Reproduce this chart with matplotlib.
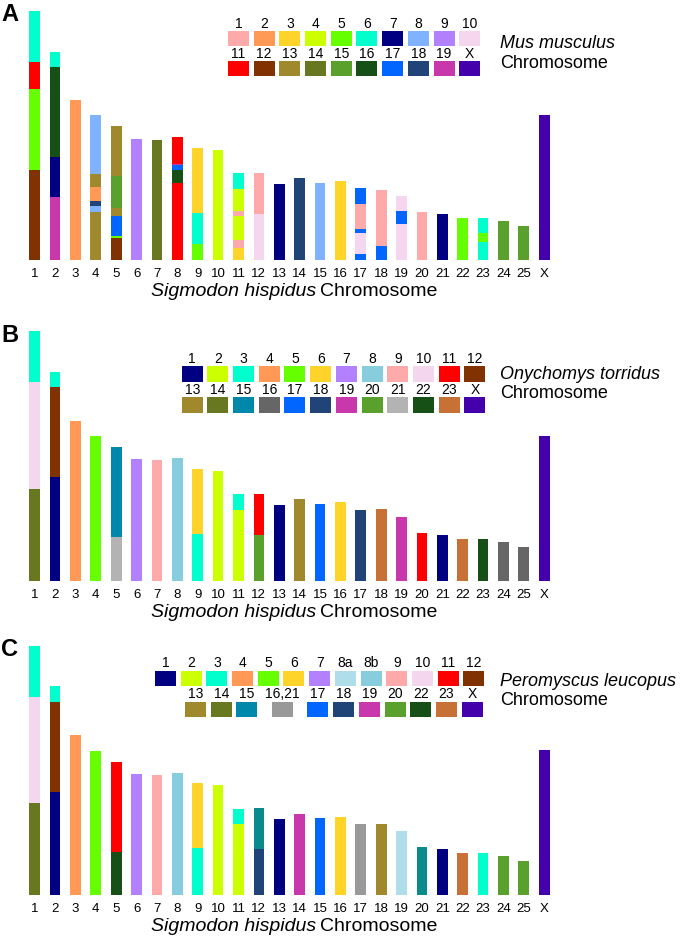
import matplotlib.pyplot as plt
from matplotlib.patches import Rectangle

plt.rcParams['font.family'] = ['Liberation Sans', 'DejaVu Sans']

# S. hispidus chromosomes on the x axis
chroms = [str(i) for i in range(1, 26)] + ['X']

# colour keys of the three reference genomes
mus_keys = ['1', '2', '3', '4', '5', '6', '7', '8', '9', '10',
            '11', '12', '13', '14', '15', '16', '17', '18', '19', 'X']
mus_cols = ['#ffaaaa', '#ff9955', '#ffd42a', '#ccff00', '#66ff00', '#00ffcc', '#000080', '#80b3ff', '#b380ff', '#f4d7ee',
            '#ff0000', '#803300', '#a0892c', '#677821', '#5aa02c', '#165016', '#0066ff', '#214478', '#c837ab', '#4400aa']

ony_keys = ['1', '2', '3', '4', '5', '6', '7', '8', '9', '10', '11', '12',
            '13', '14', '15', '16', '17', '18', '19', '20', '21', '22', '23', 'X']
ony_cols = ['#000080', '#ccff00', '#00ffcc', '#ff9955', '#66ff00', '#ffd42a', '#b380ff', '#87cdde', '#ffaaaa', '#f4d7ee', '#ff0000', '#803300',
            '#a0892c', '#677821', '#0088aa', '#666666', '#0066ff', '#214478', '#c837ab', '#5aa02c', '#b3b3b3', '#165016', '#c87137', '#4400aa']

per_keys = ['1', '2', '3', '4', '5', '6', '7', '8a', '8b', '9', '10', '11', '12',
            '13', '14', '15', '16,21', '17', '18', '19', '20', '22', '23', 'X']
per_cols = ['#000080', '#ccff00', '#00ffcc', '#ff9955', '#66ff00', '#ffd42a', '#b380ff', '#afdde9', '#87cdde', '#ffaaaa', '#f4d7ee', '#ff0000', '#803300',
            '#a0892c', '#677821', '#0088aa', '#999999', '#0066ff', '#214478', '#c837ab', '#5aa02c', '#165016', '#c87137', '#4400aa']

# segments bottom -> top: (reference chromosome, length)
mus_segs = [
    [('12', 90), ('5', 81), ('11', 27.3), ('6', 50.4)],
    [('19', 63.3), ('7', 39.7), ('16', 89.7), ('6', 15)],
    [('2', 160)],
    [('13', 48.3), ('8', 5.7), ('18', 5), ('2', 14.3), ('13', 13), ('8', 58.4)],
    [('12', 21.7), ('5', 2), ('17', 20.3), ('13', 8.3), ('15', 31.7), ('13', 49.7)],
    [('9', 121.3)],
    [('14', 120.3)],
    [('11', 76.7), ('16', 13.3), ('17', 5), ('19', 1), ('11', 26.7)],
    [('5', 15.7), ('6', 31.6), ('3', 64.7)],
    [('4', 110)],
    [('3', 11.7), ('1', 8.6), ('4', 23.4), ('1', 5.3), ('4', 22.3), ('6', 15.7)],
    [('10', 46), ('1', 41)],
    [('7', 75.7)],
    [('18', 81.7)],
    [('8', 76.7)],
    [('3', 78.7)],
    [('17', 6), ('10', 20.7), ('17', 4), ('1', 25.3), ('17', 15.7)],
    [('17', 13.7), ('1', 56.6)],
    [('10', 35.7), ('17', 13.3), ('10', 15.3)],
    [('1', 48)],
    [('7', 46)],
    [('5', 42)],
    [('6', 18), ('5', 9), ('6', 15)],
    [('15', 39)],
    [('15', 34)],
    [('X', 144.7)],
]

ony_segs = [
    [('14', 91.7), ('10', 106.7), ('3', 51)],
    [('1', 103.7), ('12', 89.7), ('3', 15.6)],
    [('4', 160)],
    [('5', 144.7)],
    [('21', 43.7), ('15', 90)],
    [('7', 121.4)],
    [('9', 120.4)],
    [('8', 122.4)],
    [('3', 47), ('6', 65)],
    [('2', 109.7)],
    [('2', 70.7), ('3', 16)],
    [('20', 45.7), ('11', 41)],
    [('1', 75.4)],
    [('13', 81.7)],
    [('17', 76.4)],
    [('6', 78.4)],
    [('18', 70.7)],
    [('23', 71.4)],
    [('19', 64)],
    [('11', 48)],
    [('1', 46)],
    [('23', 41.7)],
    [('22', 41.7)],
    [('16', 38.7)],
    [('16', 33.7)],
    [('X', 144.4)],
]

per_segs = [
    [('14', 92), ('10', 105.7), ('3', 51.6)],
    [('1', 103.3), ('12', 90), ('3', 15.4)],
    [('4', 159.7)],
    [('5', 144.3)],
    [('22', 43.3), ('11', 90)],
    [('7', 121)],
    [('9', 120)],
    [('8b', 122)],
    [('3', 46.7), ('6', 65.3)],
    [('2', 110)],
    [('2', 70.7), ('3', 15.6)],
    [('18', 46), ('t', 40.7)],
    [('1', 75.7)],
    [('19', 81.3)],
    [('17', 76.7)],
    [('6', 78.3)],
    [('16,21', 70.7)],
    [('13', 71)],
    [('8a', 64)],
    [('t', 48)],
    [('1', 46)],
    [('23', 41.7)],
    [('3', 41.7)],
    [('20', 39)],
    [('20', 33.7)],
    [('X', 144.7)],
]

W, H = 685, 937
fig = plt.figure(figsize=(W / 100, H / 100), dpi=100)

# overlay in pixel coordinates for labels / legends
ov = fig.add_axes([0, 0, 1, 1])
ov.set_xlim(0, W)
ov.set_ylim(H, 0)
ov.axis('off')

step = 20.38
x0 = 34.7


def panel(base, letter, segs, keys, cols, species, rows, leg_y, leg_x, sp_y):
    pal = dict(zip(keys, cols))
    pal['t'] = '#0a8a8a'
    ax = fig.add_axes([0, (H - base) / H, 1, 255 / H])
    xmin = 1 - x0 / step
    ax.set_xlim(xmin, xmin + W / step)
    ax.set_ylim(0, 255)
    pos = list(range(1, len(chroms) + 1))
    for p, chrom in zip(pos, segs):
        bot = 0
        for k, ln in chrom:
            ax.bar(p, ln, bottom=bot, width=0.525, color=pal[k], edgecolor='none')
            bot += ln
    ax.set_xticks(pos, chroms, fontsize=9.5)
    ax.tick_params(length=0, pad=5)
    ax.set_yticks([])
    for s in ax.spines.values():
        s.set_visible(False)
    ax.patch.set_alpha(0)

    ov.text(1, base - 258, letter, fontsize=17, fontweight='bold', ha='left', va='top')
    ov.text(316, base + 31, 'Sigmodon hispidus', fontsize=14, style='italic', ha='right', va='center')
    ov.text(320, base + 31, 'Chromosome', fontsize=14, ha='left', va='center')

    # legend boxes
    for (row, offs), y in zip(rows, leg_y):
        for k, o in zip(row, offs):
            bx = leg_x + o * 25.7
            ov.add_patch(Rectangle((bx, y), 21, 15.3, facecolor=pal[k], edgecolor='none'))
            ov.text(bx + 10.5, y - 1.5, k, fontsize=10, ha='center', va='bottom')
    ov.text(500, sp_y, species, fontsize=13, style='italic', ha='left', va='center')
    ov.text(500, sp_y + 19, 'Chromosome', fontsize=13, ha='left', va='center')


mus_rows = [(mus_keys[:10], list(range(10))), (mus_keys[10:], list(range(10)))]
panel(261, 'A', mus_segs, mus_keys, mus_cols, 'Mus musculus', mus_rows, [32, 62], 228, 44)

ony_rows = [(ony_keys[:12], list(range(12))), (ony_keys[12:], list(range(12)))]
panel(581.7, 'B', ony_segs, ony_keys, ony_cols, 'Onychomys torridus', ony_rows, [367.3, 398.3], 181.7, 375)

per_rows = [(per_keys[:13], list(range(13))),
            (per_keys[13:], [1.17, 2.17, 3.17, 4.55, 5.93, 6.93, 7.93, 8.93, 9.93, 10.93, 11.93])]
panel(896, 'C', per_segs, per_keys, per_cols, 'Peromyscus leucopus', per_rows, [672, 702.7], 155, 682)

fig.savefig('out.png', dpi=100)
